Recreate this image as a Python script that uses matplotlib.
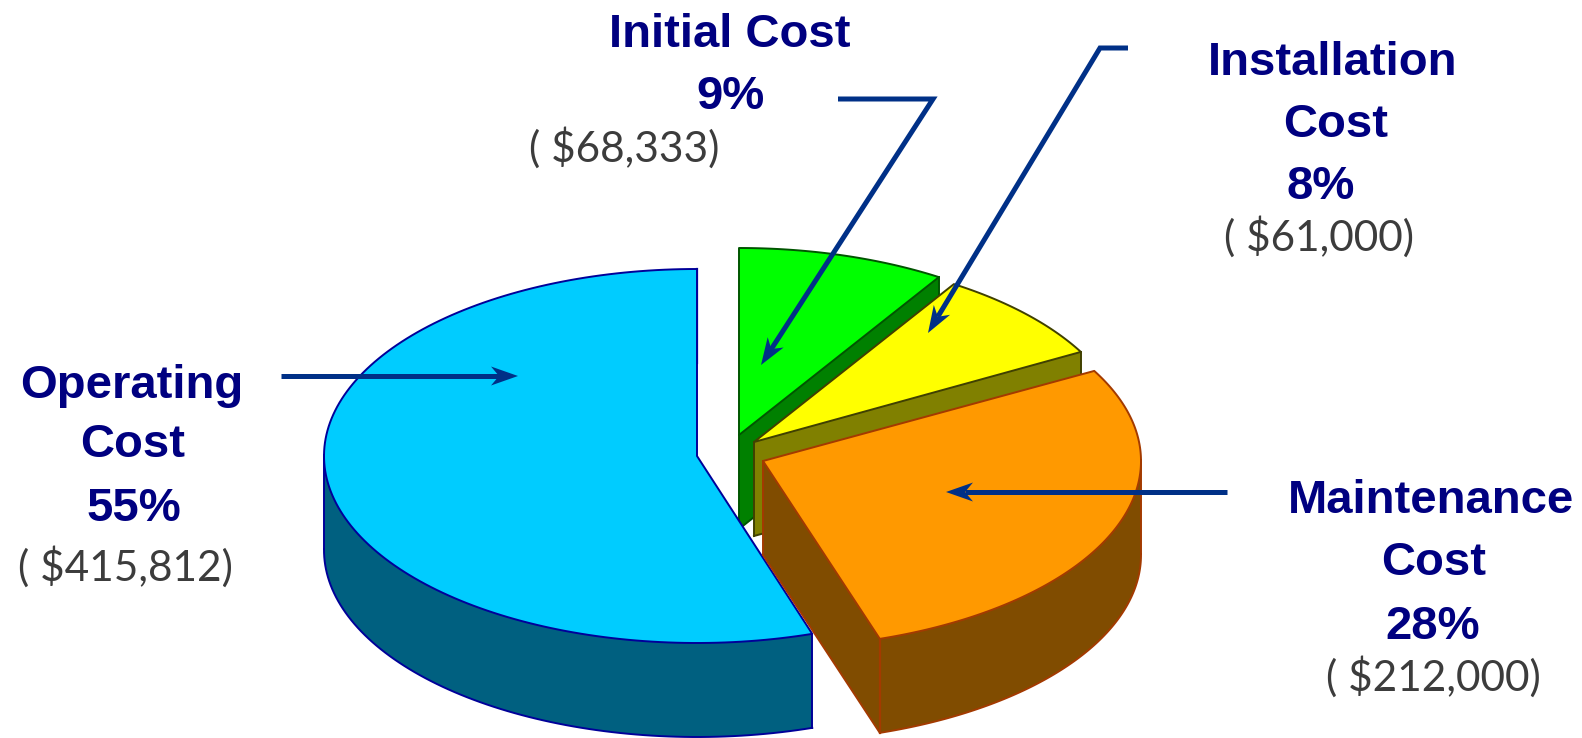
import matplotlib
matplotlib.use("Agg")
import matplotlib.pyplot as plt
import numpy as np

# clockwise from 12 o'clock, same order as the slices in the picture
categories = ["Initial Cost", "Installation Cost", "Maintenance Cost", "Operating Cost"]
costs = [68333, 61000, 212000, 415812]
percents = [9, 8, 28, 55]

top_colors = ["#00ff00", "#ffff00", "#ff9900", "#00ccff"]
side_colors = ["#008000", "#808000", "#804c00", "#006080"]
edge_colors = ["#005500", "#404000", "#a33a00", "#000099"]

# exploded centre and width of each slice, in pixels
centers = [(739, 435), (754, 442), (763, 461), (697, 456)]
radii_x = [373, 373, 378, 373]
draw_order = [0, 1, 3, 2]
RY = 187
DEPTH = 94
NAVY = "#000080"
ARROW = "#003087"


def slice_outline(i, start, sweep):
    """Centre point then the arc, angles in radians clockwise from the top"""
    cx, cy = centers[i]
    t = np.linspace(start, start + sweep, 160)
    x = cx + radii_x[i] * np.sin(t)
    y = cy - RY * np.cos(t)
    return np.r_[cx, x], np.r_[cy, y]


def draw_slice(ax, i, start, sweep):
    x, y = slice_outline(i, start, sweep)
    x2 = np.r_[x, x[0]]
    y2 = np.r_[y, y[0]]
    # going round clockwise on screen, a segment faces the viewer when dx < 0
    facing = np.where(np.diff(x2) < -1e-9)[0]
    sx = x2[facing[0]:facing[-1] + 2]
    sy = y2[facing[0]:facing[-1] + 2]

    z = 2 + draw_order.index(i) * 3
    ax.fill(np.r_[sx, sx[::-1]], np.r_[sy, sy[::-1] + DEPTH], color=side_colors[i], lw=0, zorder=z)
    ax.plot(sx, sy + DEPTH, color=edge_colors[i], lw=1.4, zorder=z + 0.1)
    ax.plot([sx[0], sx[0]], [sy[0], sy[0] + DEPTH], color=edge_colors[i], lw=1.4, zorder=z + 0.1)
    ax.plot([sx[-1], sx[-1]], [sy[-1], sy[-1] + DEPTH], color=edge_colors[i], lw=1.4, zorder=z + 0.1)
    # the corner between arc and radial face, when both are in view
    if len(sx) > 2:
        ax.plot([x[-1], x[-1]], [y[-1], y[-1] + DEPTH], color=edge_colors[i], lw=1.6, zorder=z + 0.1)

    ax.fill(x, y, facecolor=top_colors[i], edgecolor=edge_colors[i], lw=1.4,
            joinstyle="round", zorder=z + 0.2)


def arrow(ax, points):
    xs = np.array([p[0] for p in points], dtype=float)
    ys = np.array([p[1] for p in points], dtype=float)
    d = np.array([xs[-1] - xs[-2], ys[-1] - ys[-2]])
    d = d / np.hypot(d[0], d[1])
    n = np.array([-d[1], d[0]])
    tip = np.array([xs[-1], ys[-1]])
    # barbed head: tip, back corner, notch, back corner
    head = np.array([tip, tip - 27 * d + 9.5 * n, tip - 19 * d, tip - 27 * d - 9.5 * n])
    xs[-1], ys[-1] = tip - 19 * d
    ax.plot(xs, ys, color=ARROW, lw=3.6, solid_joinstyle="miter", solid_capstyle="butt", zorder=20)
    ax.fill(head[:, 0], head[:, 1], color=ARROW, lw=0, zorder=20)


fig = plt.figure(figsize=(15.82, 7.38), dpi=100)
ax = fig.add_axes([0, 0, 1, 1])
ax.set_xlim(0, 1582)
ax.set_ylim(738, 0)
ax.axis("off")

angle = 0.0
for i in range(len(categories)):
    sweep = percents[i] / sum(percents) * 2 * np.pi
    draw_slice(ax, i, angle, sweep)
    angle += sweep

arrow(ax, [(838, 99), (933, 99), (761, 365)])
arrow(ax, [(1128, 48), (1100, 48), (928, 333)])
arrow(ax, [(281, 376), (518, 376)])
arrow(ax, [(1227, 492), (946, 492)])


def bold(x, y, s):
    ax.text(x, y, s, fontsize=34, fontweight="bold", family="Liberation Sans", color=NAVY,
            ha="center", va="center", zorder=30)


def money(x, y, value):
    ax.text(x, y, "( ${:,})".format(value), fontsize=30.5, family="Lato",
            color="#3c3c3c", ha="center", va="center", zorder=30)


bold(730, 35, "Initial Cost")
bold(731, 97, "{}%".format(percents[0]))
money(624, 148, costs[0])

bold(1333, 63, "Installation")
bold(1336, 125, "Cost")
bold(1321, 187, "{}%".format(percents[1]))
money(1319, 237, costs[1])

bold(132, 386, "Operating")
bold(133, 445, "Cost")
bold(134, 509, "{}%".format(percents[3]))
money(125, 567, costs[3])

bold(1431, 501, "Maintenance")
bold(1434, 563, "Cost")
bold(1433, 627, "{}%".format(percents[2]))
money(1433, 677, costs[2])

fig.savefig("out.png", dpi=100)
